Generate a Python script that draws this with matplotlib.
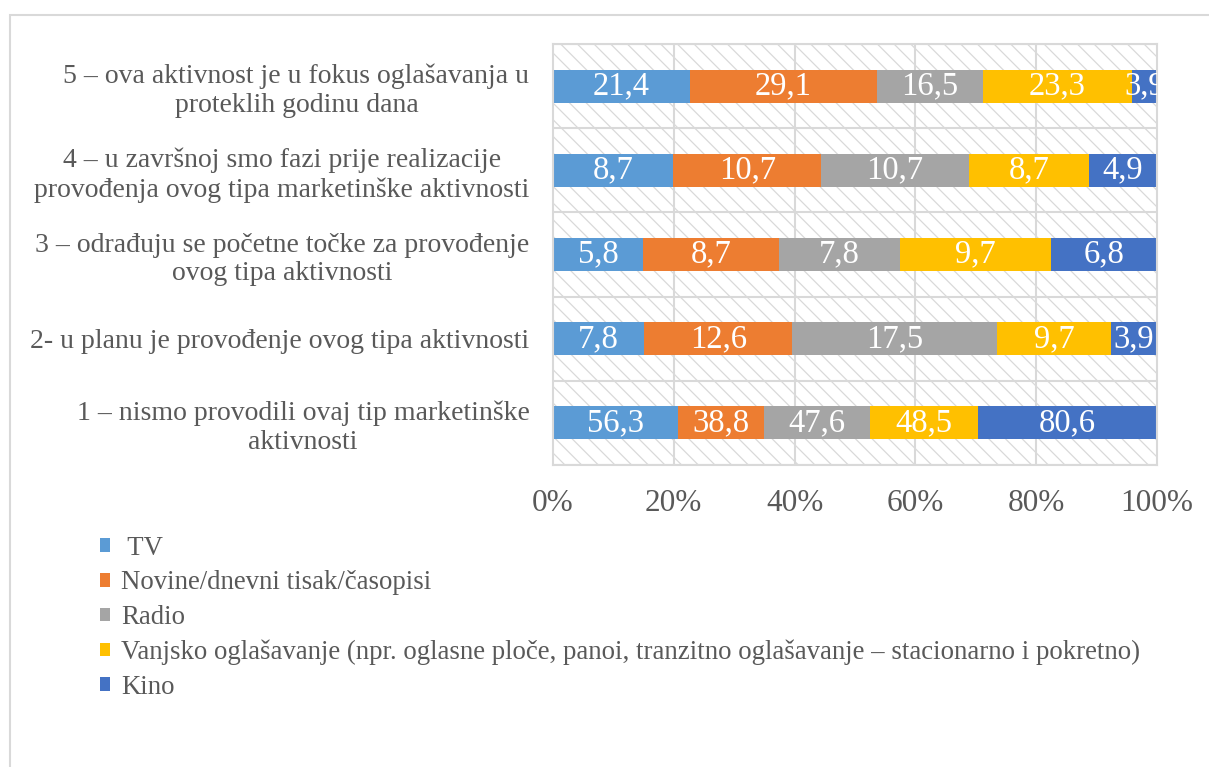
import matplotlib.pyplot as plt
from matplotlib.patches import Patch, Rectangle
import numpy as np

plt.rcParams['font.family'] = ['Liberation Serif', 'DejaVu Serif']
plt.rcParams['hatch.color'] = '#d9d9d9'
plt.rcParams['hatch.linewidth'] = 0.9

# kategorije (odozdo prema gore)
categories = [
    '1 – nismo provodili ovaj tip marketinške\naktivnosti',
    '2- u planu je provođenje ovog tipa aktivnosti',
    '3 – odrađuju se početne točke za provođenje\novog tipa aktivnosti',
    '4 – u završnoj smo fazi prije realizacije\nprovođenja ovog tipa marketinške aktivnosti',
    '5 – ova aktivnost je u fokus oglašavanja u\nproteklih godinu dana',
]

series_names = [' TV', 'Novine/dnevni tisak/časopisi', 'Radio',
                'Vanjsko oglašavanje (npr. oglasne ploče, panoi, tranzitno oglašavanje – stacionarno i pokretno)',
                'Kino']

tv = [56.3, 7.8, 5.8, 8.7, 21.4]
novine = [38.8, 12.6, 8.7, 10.7, 29.1]
radio = [47.6, 17.5, 7.8, 10.7, 16.5]
vanjsko = [48.5, 9.7, 9.7, 8.7, 23.3]
kino = [80.6, 3.9, 6.8, 4.9, 3.9]

colors = ['#5b9bd5', '#ed7d31', '#a5a5a5', '#ffc000', '#4472c4']
text_col = '#595959'
grid_col = '#d9d9d9'

data = np.array([tv, novine, radio, vanjsko, kino])
shares = data / data.sum(axis=0)

fig = plt.figure(figsize=(12.09, 7.67), dpi=100)
ax = fig.add_axes([553 / 1209, 1 - 465 / 767, 604 / 1209, 421 / 767])

y = np.arange(len(categories))

# pozadina s kosim šrafurama i mreža
ax.patch.set_hatch('\\\\')
ax.patch.set_edgecolor(grid_col)
for b in np.arange(-0.5, len(categories), 1.0):
    ax.axhline(b, color=grid_col, lw=1.5, zorder=1)
for g in np.arange(0.2, 1.0, 0.2):
    ax.axvline(g, color=grid_col, lw=1.5, zorder=1)

left = np.zeros(len(categories))
for i in range(len(series_names)):
    ax.barh(y, shares[i], left=left, height=0.39, color=colors[i], zorder=2)
    for j in range(len(categories)):
        ax.text(left[j] + shares[i][j] / 2, y[j], f'{data[i][j]:.1f}'.replace('.', ','),
                ha='center', va='center', color='white', fontsize=23.5, zorder=3,
                clip_on=True)
    left += shares[i]

ax.set_xlim(0, 1)
ax.set_ylim(-0.5, len(categories) - 0.5)
ax.set_xticks(np.arange(0, 1.01, 0.2))
ax.set_xticklabels([f'{int(round(t * 100))}%' for t in np.arange(0, 1.01, 0.2)])
ax.set_yticks(y)
ax.set_yticklabels(categories, multialignment='center', linespacing=1.2)
ax.tick_params(axis='x', length=0, pad=17, labelsize=22.5, labelcolor=text_col)
ax.tick_params(axis='y', length=0, pad=17, labelsize=20, labelcolor=text_col)
for s in ax.spines.values():
    s.set_color(grid_col)
    s.set_linewidth(1.5)

handles = [Patch(facecolor=c, edgecolor='none') for c in colors]
fig.legend(handles, series_names, loc='upper left', bbox_to_anchor=(89 / 1209, 1 - 525 / 767),
           frameon=False, fontsize=19.3, labelcolor=text_col, handlelength=0.4,
           handleheight=0.4, handletextpad=0.4, labelspacing=0.36, borderaxespad=0)

# okvir oko grafikona
fig.patches.append(Rectangle((10 / 1209, -0.1), 1.2, 1.1 - 15 / 767, transform=fig.transFigure,
                             fill=False, edgecolor=grid_col, lw=1.5, clip_on=False))

fig.savefig('out.png', dpi=100, facecolor='white')
